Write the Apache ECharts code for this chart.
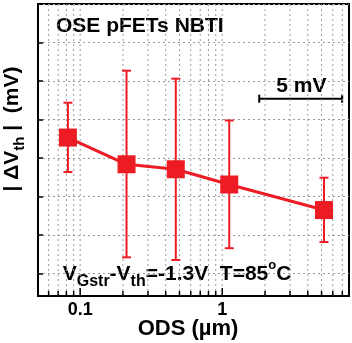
<!DOCTYPE html>
<html><head><meta charset="utf-8">
<script src="https://cdn.jsdelivr.net/npm/echarts@6/dist/echarts.min.js"></script>
<style>html,body{margin:0;padding:0;background:#fff}#c{width:352px;height:343px}</style>
</head><body><div id="c"></div>
<script>
// ---- data ----
const odsUm = [0.082, 0.212, 0.471, 1.12, 5.2];          // x (µm)
const dVthMean = [9.55, 7.94, 7.64, 6.72, 5.18];          // mV
const dVthLow  = [7.47, 2.33, 2.17, 2.88, 3.25];          // mV
const dVthHigh = [11.65, 13.58, 13.10, 10.58, 7.13];      // mV
const xTickLabels = ['0.1', '1'];
const xMajorTicks = [0.1, 1];
const xMinorTicks = [0.06,0.07,0.08,0.09,0.2,0.3,0.4,0.5,0.6,0.7,0.8,0.9,2,3,4,5,6,7];
const xMin = 0.0505, xMax = 7.8;
const yMin = 0, yMax = 17.6;        // mV
const gridDivs = 7.58;              // horizontal grid divisions (top to bottom)
const scaleBarMV = 5;

const RED = '#ED1C24';
const FONT = '"Liberation Sans", Arial, sans-serif';
const chart = echarts.init(document.getElementById('c'), null, {renderer:'canvas'});

const mainData = odsUm.map((x,i)=>[x, dVthMean[i]]);
const errData = odsUm.map((x,i)=>[x, dVthLow[i], dVthHigh[i]]);
const vgrid = xMajorTicks.map(v=>[v,0,1]).concat(xMinorTicks.map(v=>[v,0,0]));

const option = {
  animation:false,
  grid:{left:38, right:1, top:4, bottom:47, show:true, borderColor:'#000', borderWidth:2, backgroundColor:'transparent'},
  xAxis:{type:'log', logBase:10, min:xMin, max:xMax,
    axisLine:{show:true, lineStyle:{color:'#000', width:2}},
    axisTick:{show:false}, splitLine:{show:false}, minorTick:{show:false},
    axisLabel:{show:true, margin:5, fontSize:18, fontWeight:'bold', color:'#000', fontFamily:FONT,
      showMinLabel:true, showMaxLabel:true,
      formatter:v=>{const t=xTickLabels.find(s=>Math.abs(+s/v-1)<1e-6); return t||'';}}
  },
  yAxis:[
    {type:'value', min:yMin, max:yMax, axisLine:{show:true, lineStyle:{color:'#000', width:2}},
     axisTick:{show:false}, axisLabel:{show:false}, splitLine:{show:false}},
    {type:'value', inverse:true, min:0, max:gridDivs, interval:1, position:'left',
     axisLine:{show:false}, axisLabel:{show:false},
     axisTick:{show:true, inside:true, length:5, lineStyle:{color:'#000', width:1.5}},
     splitLine:{show:true, lineStyle:{color:'#9a9a9a', width:1, type:[2,3]}}}
  ],
  series:[
    {type:'custom', name:'vgrid', coordinateSystem:'cartesian2d', xAxisIndex:0, yAxisIndex:0,
     data:vgrid, silent:true, z:1,
     renderItem:(p,api)=>{
       const v=api.value(0), major=api.value(2);
       const b=api.coord([v,yMin]), t=api.coord([v,yMax]);
       const len = major?8:5;
       return {type:'group', children:[
         {type:'line', shape:{x1:b[0],y1:b[1],x2:t[0],y2:t[1]}, style:{stroke:'#9a9a9a', lineWidth:1, lineDash:[2,3]}},
         {type:'line', shape:{x1:b[0],y1:b[1],x2:b[0],y2:b[1]-len}, style:{stroke:'#000', lineWidth:1.5}}
       ]};
     }},
    {type:'custom', name:'err', coordinateSystem:'cartesian2d', data:errData, z:3,
     renderItem:(p,api)=>{
       const x=api.value(0);
       const lo=api.coord([x,api.value(1)]), hi=api.coord([x,api.value(2)]);
       const cw=4.5;
       const st={stroke:RED, lineWidth:2};
       return {type:'group', children:[
         {type:'line', shape:{x1:lo[0],y1:lo[1],x2:hi[0],y2:hi[1]}, style:st},
         {type:'line', shape:{x1:lo[0]-cw,y1:lo[1],x2:lo[0]+cw,y2:lo[1]}, style:st},
         {type:'line', shape:{x1:hi[0]-cw,y1:hi[1],x2:hi[0]+cw,y2:hi[1]}, style:st}
       ]};
     }},
    {type:'line', name:'dVth', data:mainData, z:4, symbol:'rect', symbolSize:18,
     lineStyle:{color:RED, width:3}, itemStyle:{color:RED}}
  ]
};
chart.setOption(option);

// annotations
const p0 = chart.convertToPixel({yAxisIndex:0}, 0);
const p5 = chart.convertToPixel({yAxisIndex:0}, scaleBarMV);
const barLen = Math.abs(p0 - p5);
const barCx = 300.7, barY = 98.7;
const big = {fontSize:21, fontWeight:'bold', fontFamily:FONT, lineHeight:30, verticalAlign:'middle', fill:'#000', color:'#000'};
const sub = {fontSize:16, fontWeight:'bold', fontFamily:FONT, lineHeight:12, verticalAlign:'bottom', color:'#000'};
const sup = {fontSize:13, fontWeight:'bold', fontFamily:FONT, lineHeight:14, verticalAlign:'top', color:'#000'};
chart.setOption({graphic:[
  {type:'text', x:56, y:26.3, style:{text:'OSE pFETs NBTI', font:'bold 21px '+FONT, fill:'#000', align:'left', verticalAlign:'middle'}},
  {type:'text', x:301.3, y:86, style:{text:'5 mV', font:'bold 21px '+FONT, fill:'#000', align:'center', verticalAlign:'middle'}},
  {type:'line', shape:{x1:barCx-barLen/2, y1:barY, x2:barCx+barLen/2, y2:barY}, style:{stroke:'#000', lineWidth:2}},
  {type:'line', shape:{x1:barCx-barLen/2, y1:barY-4, x2:barCx-barLen/2, y2:barY+4}, style:{stroke:'#000', lineWidth:2}},
  {type:'line', shape:{x1:barCx+barLen/2, y1:barY-4, x2:barCx+barLen/2, y2:barY+4}, style:{stroke:'#000', lineWidth:2}},
  {type:'text', x:62.7, y:274.2, style:{text:'{b|V}{s|Gstr}{b|-V}{s|th}{b|=-1.3V  T=85}{p|o}{b|C}',
     rich:{b:big, s:sub, p:sup}, align:'left', verticalAlign:'middle'}},
  {type:'text', x:12, y:129, rotation:Math.PI/2, style:{text:'{b|| ΔV}{s|th}{b| |  (mV)}',
     rich:{b:big, s:{...sub, fontSize:15}}, align:'center', verticalAlign:'middle'}},
  {type:'text', x:188, y:328.7, style:{text:'ODS (µm)', font:'bold 22px '+FONT, fill:'#000', align:'center', verticalAlign:'middle'}}
]});
</script>
</body></html>
